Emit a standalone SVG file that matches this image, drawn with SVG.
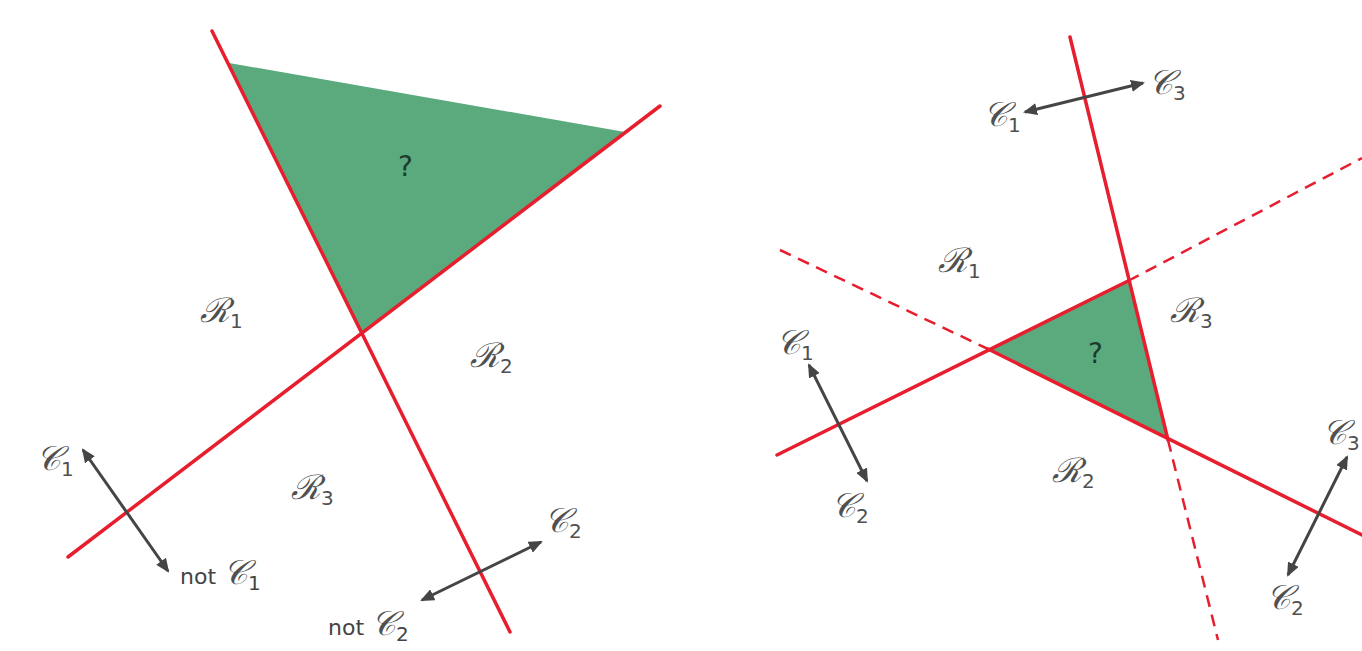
<svg xmlns="http://www.w3.org/2000/svg" width="1362" height="651" viewBox="0 0 1362 651">
<defs>
<style>
.red{stroke:#e61e2e;stroke-width:3.5;fill:none;stroke-linecap:round}
.dash{stroke:#e61e2e;stroke-width:2.5;fill:none;stroke-dasharray:12 8}
.green{fill:#5aaa7e}
.arr{stroke:#454545;stroke-width:3;fill:none;marker-start:url(#ah);marker-end:url(#ah)}
.m{font-family:"DejaVu Serif","Liberation Serif",serif;font-style:italic;font-size:34px;fill:#505050}
.s{font-size:20px;font-style:normal;font-family:"DejaVu Sans","Liberation Sans",sans-serif}
.t{font-family:"DejaVu Sans","Liberation Sans",sans-serif;font-size:22px;fill:#444}
.q{font-family:"DejaVu Sans","Liberation Sans",sans-serif;font-size:28px;fill:#1d3b2b}
</style>
<marker id="ah" viewBox="0 0 14 12" refX="12" refY="6" markerWidth="14" markerHeight="12" orient="auto-start-reverse" markerUnits="userSpaceOnUse">
<path d="M0,0 L14,6 L0,12 z" fill="#454545"/>
</marker>
</defs>
<rect width="1362" height="651" fill="#ffffff"/>

<g id="left-region">
<polygon class="green" points="229,63 625,132 362,333"/>
</g>
<g id="right-region">
<polygon class="green" points="988,349 1128,281 1168,438"/>
</g>

<g id="connectors">
<line class="red" x1="212" y1="31" x2="510" y2="632"/>
<line class="red" x1="68" y1="557" x2="660" y2="106"/>
<line class="red" x1="1070" y1="37" x2="1168" y2="440"/>
<line class="dash" x1="1168" y1="440" x2="1218" y2="640"/>
<line class="red" x1="777" y1="455" x2="1128" y2="281"/>
<line class="dash" x1="1128" y1="281" x2="1362" y2="158"/>
<line class="dash" x1="780" y1="250" x2="988" y2="349"/>
<line class="red" x1="988" y1="349" x2="1362" y2="535"/>
<line class="arr" x1="83" y1="450" x2="168" y2="571"/>
<line class="arr" x1="422" y1="600" x2="541" y2="542"/>
<line class="arr" x1="1025" y1="112" x2="1143" y2="83"/>
<line class="arr" x1="809" y1="365" x2="867" y2="481"/>
<line class="arr" x1="1347" y1="457" x2="1288" y2="575"/>
</g>

<g id="left-labels">
<text class="q" x="398" y="176">?</text>
<text class="m" x="200" y="322">ℛ<tspan class="s" dy="6">1</tspan></text>
<text class="m" x="470" y="367">ℛ<tspan class="s" dy="6">2</tspan></text>
<text class="m" x="291" y="499">ℛ<tspan class="s" dy="6">3</tspan></text>
<text class="m" x="36" y="470">𝒞<tspan class="s" dy="6">1</tspan></text>
<text class="t" x="180" y="584">not <tspan class="m">𝒞</tspan><tspan class="s" dy="6">1</tspan></text>
<text class="m" x="544" y="532">𝒞<tspan class="s" dy="6">2</tspan></text>
<text class="t" x="328" y="635">not <tspan class="m">𝒞</tspan><tspan class="s" dy="6">2</tspan></text>
</g>

<g id="right-labels">
<text class="q" x="1088" y="363">?</text>
<text class="m" x="983" y="126">𝒞<tspan class="s" dy="6">1</tspan></text>
<text class="m" x="1148" y="94">𝒞<tspan class="s" dy="6">3</tspan></text>
<text class="m" x="938" y="272">ℛ<tspan class="s" dy="6">1</tspan></text>
<text class="m" x="1170" y="322">ℛ<tspan class="s" dy="6">3</tspan></text>
<text class="m" x="776" y="354">𝒞<tspan class="s" dy="6">1</tspan></text>
<text class="m" x="1052" y="482">ℛ<tspan class="s" dy="6">2</tspan></text>
<text class="m" x="831" y="517">𝒞<tspan class="s" dy="6">2</tspan></text>
<text class="m" x="1322" y="444">𝒞<tspan class="s" dy="6">3</tspan></text>
<text class="m" x="1266" y="609">𝒞<tspan class="s" dy="6">2</tspan></text>
</g>
</svg>
